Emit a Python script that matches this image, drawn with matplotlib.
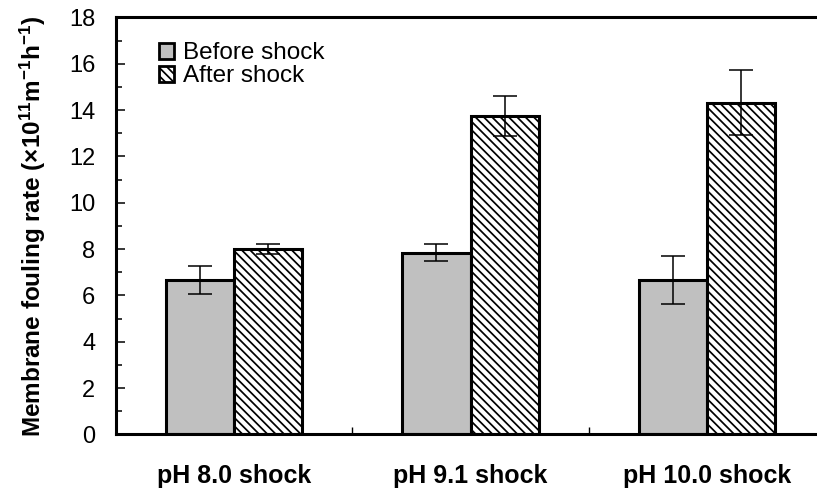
import matplotlib
matplotlib.use("Agg")
import matplotlib.pyplot as plt
from matplotlib.ticker import MultipleLocator, FixedLocator
from matplotlib.patches import Patch

plt.rcParams["font.family"] = ["Liberation Sans", "DejaVu Sans"]
plt.rcParams["mathtext.fontset"] = "custom"
plt.rcParams["mathtext.rm"] = "Liberation Sans"
plt.rcParams["mathtext.bf"] = "Liberation Sans:bold"
plt.rcParams["mathtext.default"] = "regular"
plt.rcParams["hatch.linewidth"] = 1.25
plt.rcParams["hatch.color"] = "#333333"

categories = ["pH 8.0 shock", "pH 9.1 shock", "pH 10.0 shock"]
before = [6.68, 7.85, 6.66]
before_err = [0.60, 0.37, 1.03]
after = [8.02, 13.75, 14.33]
after_err = [0.22, 0.85, 1.40]

fig = plt.figure(figsize=(8.17, 4.91), dpi=100)
ax = fig.add_axes([0.142, 0.1151, 0.8678, 0.8493])

x = list(range(len(categories)))
w = 0.288
lw_edge = 2.2
hatch = "\\\\\\\\"
err_kw = dict(ecolor="black", elinewidth=1.1, capsize=8.4, capthick=1.1)

ax.bar([i - w / 2 for i in x], before, width=w, color="#c0c0c0",
       edgecolor="black", linewidth=lw_edge, yerr=before_err,
       error_kw=err_kw, zorder=2)
ax.bar([i + w / 2 for i in x], after, width=w, color="white",
       edgecolor="black", linewidth=lw_edge, hatch=hatch,
       yerr=after_err, error_kw=err_kw, zorder=2)

ax.set_xlim(-0.5, len(categories) - 0.5)
ax.set_ylim(0, 18)

ax.yaxis.set_major_locator(MultipleLocator(2))
ax.yaxis.set_minor_locator(MultipleLocator(1))
ax.tick_params(axis="y", which="major", direction="in", length=6.5,
               width=1.1, labelsize=17, pad=15)
ax.tick_params(axis="y", which="minor", direction="in", length=4.5, width=1.1)

ax.set_xticks(x)
ax.set_xticklabels(categories, fontsize=18, fontweight="bold")
ax.xaxis.set_minor_locator(FixedLocator([0.5, 1.5]))
ax.tick_params(axis="x", which="major", length=0, pad=21)
ax.tick_params(axis="x", which="minor", direction="in", length=5, width=1.0)
ax.tick_params(right=False, top=False, which="both")

for s in ax.spines.values():
    s.set_linewidth(2.2)

ax.set_ylabel("Membrane fouling rate (×10$^{11}$m$^{-1}$h$^{-1}$)",
              fontsize=17.5, fontweight="bold", labelpad=15)

handles = [Patch(facecolor="#c0c0c0", edgecolor="black", linewidth=2.0),
           Patch(facecolor="white", edgecolor="black", linewidth=2.0,
                 hatch=hatch)]
ax.legend(handles, ["Before shock", "After shock"], loc="upper left",
          bbox_to_anchor=(0.061, 0.94), frameon=False, fontsize=17.5,
          handlelength=0.62, handleheight=0.62, handletextpad=0.35,
          labelspacing=0.04, borderpad=0, borderaxespad=0)

fig.savefig("out.png", dpi=100)
